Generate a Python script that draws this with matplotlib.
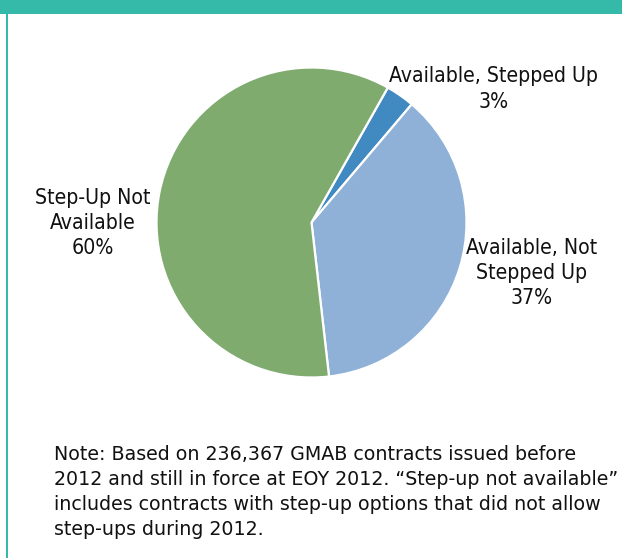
import matplotlib.pyplot as plt
from matplotlib.patches import Rectangle

# Pie data (clockwise from the top-right)
labels = ['Available, Stepped Up\n3%',
          'Available, Not\nStepped Up\n37%',
          'Step-Up Not\nAvailable\n60%']
shares = [3, 37, 60]
colors = ['#4189C1', '#8FB0D7', '#7FAB6F']

note = ('Note: Based on 236,367 GMAB contracts issued before\n'
        '2012 and still in force at EOY 2012. \u201cStep-up not available\u201d\n'
        'includes contracts with step-up options that did not allow\n'
        'step-ups during 2012.')

W, H = 622, 558
teal = '#35B9A9'


def px(x, y):
    # pixel position (from top-left) -> figure fraction
    return x / W, 1 - y / H


fig = plt.figure(figsize=(W / 100, H / 100), dpi=100)

# frame decorations: teal band on top, thin teal rule on the left
fig.add_artist(Rectangle(px(0, 13.5), 1, 13.5 / H, transform=fig.transFigure,
                         color=teal, lw=0))
fig.add_artist(Rectangle(px(6, H), 1.5 / W, 1 - 13.5 / H, transform=fig.transFigure,
                         color=teal, lw=0))

# pie, centred at (311.5, 222.5) px with radius 155 px
cx, cy, r = 311.5, 222.5, 155
ax = fig.add_axes([(cx - r) / W, 1 - (cy + r) / H, 2 * r / W, 2 * r / H])
ax.pie(shares, colors=colors, startangle=60.5, counterclock=False,
       wedgeprops=dict(edgecolor='white', linewidth=1.6))
ax.set_xlim(-1, 1)
ax.set_ylim(-1, 1)
ax.set_aspect('equal')
ax.axis('off')

lab_font = dict(family='DejaVu Sans', stretch='condensed', fontsize=15.2, color='#111111',
                ha='center', va='center', linespacing=1.33)
fig.text(*px(494, 89), labels[0], **lab_font)
fig.text(*px(532, 273), labels[1], **lab_font)
fig.text(*px(93, 223), labels[2], **lab_font)

fig.text(*px(54, 492), note, family='DejaVu Sans', fontsize=13.7, color='#111111',
         ha='left', va='center', linespacing=1.38)

fig.savefig('out.png', dpi=100)
